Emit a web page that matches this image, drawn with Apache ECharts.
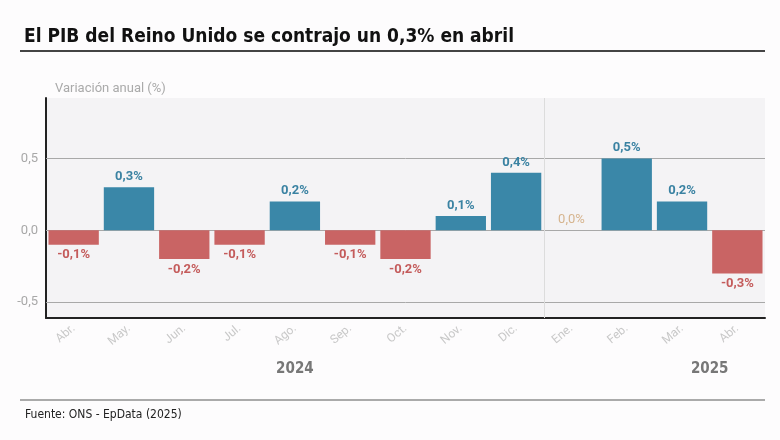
<!DOCTYPE html>
<html>
<head>
<meta charset="utf-8">
<script src="https://cdn.jsdelivr.net/npm/echarts@6/dist/echarts.min.js"></script>
<style>
  html, body { margin: 0; padding: 0; background: #fdfcfd; }
  #chart { width: 780px; height: 440px; }
</style>
</head>
<body>
<div id="chart"></div>
<script>
// Datos: variación anual del PIB (%)
var meses = ['Abr.', 'May.', 'Jun.', 'Jul.', 'Ago.', 'Sep.', 'Oct.', 'Nov.', 'Dic.', 'Ene.', 'Feb.', 'Mar.', 'Abr.'];
var valores = [-0.1, 0.3, -0.2, -0.1, 0.2, -0.1, -0.2, 0.1, 0.4, 0.0, 0.5, 0.2, -0.3];
var ticksY = [-0.5, 0, 0.5];
var years = [{ pos: 4.5, label: '2024' }, { pos: 12, label: '2025' }];
var cambioAnio = 9; // límite entre Dic. y Ene.

var azul = '#3a87a8';
var rojo = '#c96464';
var tostado = '#d6b48e';
var condensada = '"DejaVu Sans Condensed", "Roboto Condensed", Roboto';

function fmt(v) {
  return v.toFixed(1).replace('.', ',');
}

var chart = echarts.init(document.getElementById('chart'));

var datos = valores.map(function (v) {
  var color = v > 0 ? azul : (v < 0 ? rojo : tostado);
  return {
    value: v,
    itemStyle: { color: color },
    label: {
      position: v < 0 ? 'bottom' : 'top',
      color: v > 0 ? '#3a82a2' : (v < 0 ? '#c45b5b' : tostado),
      fontWeight: v === 0 ? 'normal' : 'bold'
    }
  };
});

var option = {
  backgroundColor: '#fdfcfd',
  animation: false,
  textStyle: { fontFamily: 'Roboto' },
  title: [
    {
      text: 'El PIB del Reino Unido se contrajo un 0,3% en abril',
      left: 19, top: 23,
      textStyle: { fontFamily: condensada, fontSize: 19, fontWeight: 'bold', color: '#111' }
    },
    {
      text: 'Variación anual (%)',
      left: 50, top: 77,
      textStyle: { fontFamily: 'Roboto', fontSize: 13, fontWeight: 'normal', color: '#aaa' }
    },
    {
      text: 'Fuente: ONS - EpData (2025)',
      left: 20, top: 404,
      textStyle: { fontFamily: condensada, fontSize: 12, fontWeight: 'normal', color: '#222' }
    }
  ],
  graphic: [
    { type: 'rect', shape: { x: 20, y: 50, width: 745, height: 2 }, style: { fill: '#444' } },
    { type: 'rect', shape: { x: 20, y: 399, width: 745, height: 2 }, style: { fill: '#aaa' } }
  ],
  grid: {
    left: 46, right: 15, top: 98, bottom: 122,
    show: true, backgroundColor: '#f4f3f5', borderWidth: 0
  },
  xAxis: [
    {
      type: 'category',
      data: meses,
      axisLine: { onZero: false, lineStyle: { color: '#222', width: 2 } },
      axisTick: { show: false },
      axisLabel: { rotate: 40, color: '#c8c8c8', fontSize: 12, margin: 9 },
      splitLine: { show: false }
    },
    {
      type: 'value',
      position: 'bottom',
      offset: 36,
      min: 0, max: 13, interval: 0.5,
      axisLine: { show: false },
      axisTick: { show: false },
      splitLine: { show: false },
      axisLabel: {
        color: '#777', fontSize: 15, fontWeight: 'bold', fontFamily: condensada,
        formatter: function (v) {
          for (var i = 0; i < years.length; i++) {
            if (Math.abs(years[i].pos - v) < 0.01) return years[i].label;
          }
          return '';
        }
      }
    }
  ],
  yAxis: {
    type: 'value',
    min: -0.61, max: 0.92,
    splitNumber: 3,
    axisLine: { show: true, lineStyle: { color: '#222', width: 2 } },
    axisTick: { show: false },
    axisLabel: {
      color: '#a8a8a8', fontSize: 13, margin: 8,
      showMinLabel: false, showMaxLabel: false,
      formatter: function (v) {
        for (var i = 0; i < ticksY.length; i++) {
          if (Math.abs(ticksY[i] - v) < 1e-6) return fmt(ticksY[i]);
        }
        return '';
      }
    },
    splitLine: { show: false }
  },
  series: [
    {
      type: 'bar',
      xAxisIndex: 0,
      data: datos,
      barCategoryGap: '9%',
      label: {
        show: true,
        fontSize: 13,
        distance: 4,
        formatter: function (p) { return fmt(p.value) + '%'; }
      },
      markLine: {
        silent: true,
        symbol: 'none',
        label: { show: false },
        lineStyle: { color: '#a8a8a8', type: 'solid', width: 1 },
        data: ticksY.map(function (t) { return { yAxis: t }; }),
        z: 1
      },
      z: 3
    },
    {
      // separador de años sobre el eje de valores auxiliar
      type: 'line',
      xAxisIndex: 1,
      data: [],
      markLine: {
        silent: true,
        symbol: 'none',
        label: { show: false },
        lineStyle: { color: '#dcdcdc', type: 'solid', width: 1 },
        data: [{ xAxis: cambioAnio }]
      },
      z: 1
    }
  ]
};

chart.setOption(option);
</script>
</body>
</html>
